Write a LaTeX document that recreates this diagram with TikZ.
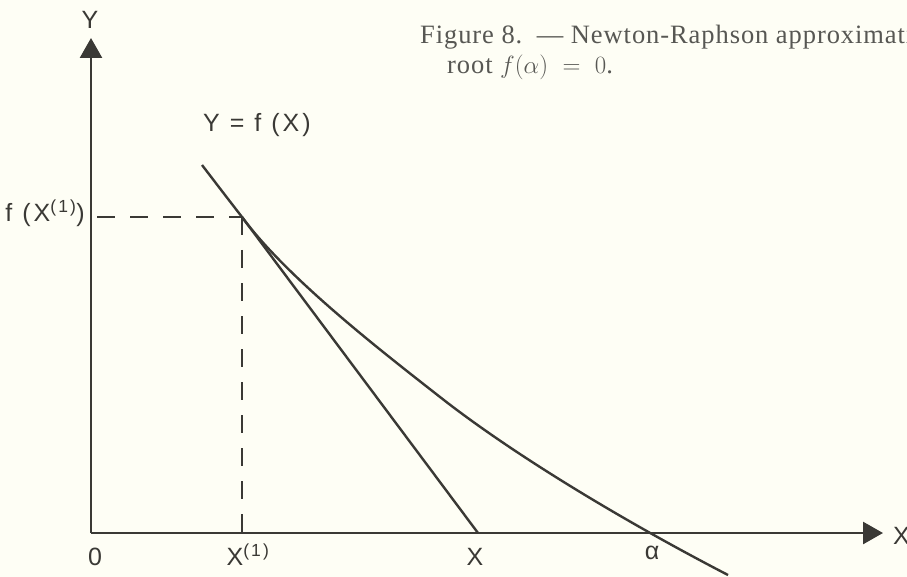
\documentclass[tikz,border=0pt]{standalone}
\usepackage{fontspec}
\setmainfont{Liberation Serif}
\newfontfamily\lblfont[LetterSpace=12]{Liberation Sans}
\newfontfamily\capfont[LetterSpace=3.5]{Liberation Serif}
\usetikzlibrary{arrows.meta}
\definecolor{ink}{HTML}{3A3935}
\definecolor{paper}{HTML}{FEFEF5}
\begin{document}
\begin{tikzpicture}[x=1pt,y=-1pt,
  axis/.style={line width=2.6pt,draw=ink,-{Triangle[length=20pt,width=22pt]}},
  curveline/.style={line width=2.4pt,draw=ink},
  dashline/.style={line width=2.4pt,draw=ink,dash pattern=on 18pt off 15pt},
  lbl/.style={text=ink,font=\lblfont\fontsize{25}{25}\selectfont,inner sep=0pt},
  captext/.style={text=ink!85,font=\capfont\fontsize{26.5}{26.5}\selectfont,inner sep=0pt,anchor=base west}]
\useasboundingbox (0,0) rectangle (907,577);
\fill[paper] (0,0) rectangle (907,577);
\clip (0,0) rectangle (907,577);
% key points
\coordinate (O) at (91,533);
\coordinate (ytip) at (91,38);
\coordinate (xtip) at (883,533);
\coordinate (P) at (242,217);
\coordinate (fx) at (97,217);
\coordinate (xone) at (242,533);
\coordinate (xnew) at (478,533);
\coordinate (cstart) at (202,165);
\coordinate (cmid) at (440,397);
\coordinate (cend) at (728,575);
% axes
\draw[axis] (O) -- (ytip);
\draw[axis] (O) -- (xtip);
% dashed guides
\draw[dashline] (fx) -- (P);
\draw[dashline] (P) -- (xone);
% tangent
\draw[curveline] (P) -- (xnew);
% curve
\draw[curveline] (cstart) .. controls (215,182) and (228,199) .. (P)
  .. controls (287,278) and (380,350) .. (cmid)
  .. controls (510,452) and (618,518) .. (cend);
% labels
\node[lbl] (ylab) at (90,20) {Y};
\node[lbl,anchor=west] (flab) at (203,125) {Y = f (X)};
\node[lbl,anchor=east] (fxlab) at (85,213) {f (X\textsuperscript{(1)})};
\node[lbl] (olab) at (95,557) {0};
\node[lbl] (x1lab) at (248,555) {X\textsuperscript{(1)}};
\node[lbl] (xlab) at (475,557) {X};
\node[lbl] (alab) at (652,553) {α};
\node[lbl,anchor=west] (xaxlab) at (893,536) {X};
% caption
\node[captext] (cap1) at (420,44) {Figure 8.\, — Newton-Raphson approximation to the};
\node[captext] (cap2) at (447,74) {root $f(\alpha)\ =\ 0$.};
\end{tikzpicture}
\end{document}
